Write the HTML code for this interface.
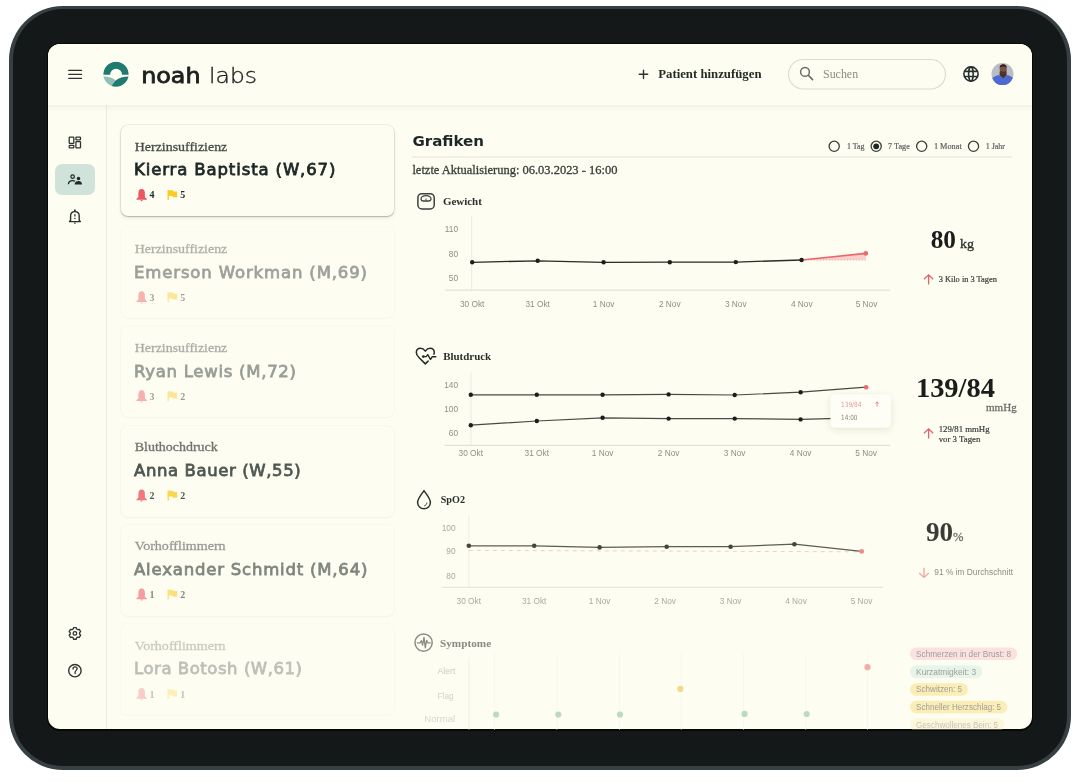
<!DOCTYPE html>
<html lang="de">
<head>
<meta charset="utf-8">
<title>noah labs – Patienten</title>
<style>
*{box-sizing:border-box;margin:0;padding:0}
html,body{width:1080px;height:782px;background:#fff;overflow:hidden}
body{position:relative;font-family:"Liberation Serif",serif;color:#1f2624}
.abs{position:absolute}
#frame{position:absolute;left:8.9px;top:6.1px;width:1061.9px;height:763.6px;border-radius:54px;background:#141819;border:4.2px solid #373f42;border-top-width:3.2px}
#bezel{position:absolute;left:47.2px;top:43.2px;width:986.1px;height:687.4px;border-radius:13px;background:#060707}
#screen{position:absolute;left:48.3px;top:44.3px;width:983.9px;height:685.2px;border-radius:12px;background:#fdfdf1;overflow:hidden}
#pg{position:absolute;left:-48.3px;top:-44.3px;width:1080px;height:782px}
.card{position:absolute;left:121.3px;width:272.3px;height:91px;border-radius:7px;background:#fdfdf1}
svg text{white-space:pre}
.se{font-family:"Liberation Serif",serif}
.sa{font-family:"Liberation Sans",sans-serif}
.dv{font-family:"DejaVu Sans",sans-serif}
</style>
</head>
<body>
<div id="frame"></div>
<div id="bezel"></div>
<div id="screen"><div id="pg">
<div class="card" style="top:125.2px;box-shadow:0 0 0 0.6px rgba(60,60,40,.10),0 1px 1.5px rgba(60,60,40,.30),0 2px 4px rgba(60,60,40,.07)"></div>
<div class="card" style="top:227.4px;box-shadow:0 0 0 1px rgba(60,60,40,0.017),0 1px 2px rgba(60,60,40,0.021)"></div>
<div class="card" style="top:326.4px;box-shadow:0 0 0 1px rgba(60,60,40,0.018),0 1px 2px rgba(60,60,40,0.021)"></div>
<div class="card" style="top:425.6px;box-shadow:0 0 0 1px rgba(60,60,40,0.025),0 1px 2px rgba(60,60,40,0.031)"></div>
<div class="card" style="top:524.6px;box-shadow:0 0 0 1px rgba(60,60,40,0.020),0 1px 2px rgba(60,60,40,0.025)"></div>
<div class="card" style="top:624.2px;box-shadow:0 0 0 1px rgba(60,60,40,0.014),0 1px 2px rgba(60,60,40,0.017)"></div>

  <div class="abs" style="left:106px;top:105px;width:1px;height:630px;background:#ececdf"></div>
  <div class="abs" style="left:0;top:0;width:1080px;height:105px;background:#fdfdf1;box-shadow:0 2px 7px rgba(70,70,40,.07)"></div>
</div></div>
<svg class="abs" style="left:0;top:0" width="1080" height="782" viewBox="0 0 1080 782">
<defs>
  <clipPath id="scr"><rect x="48.3" y="44.3" width="983.9" height="685.2" rx="12"/></clipPath>
  <clipPath id="logoc"><circle cx="116" cy="74.15" r="12.6"/></clipPath>
  <clipPath id="avc"><circle cx="1002.5" cy="74.1" r="11"/></clipPath>
  <filter id="tsh" x="-30%" y="-40%" width="160%" height="200%"><feDropShadow dx="0" dy="2" stdDeviation="3" flood-color="#3c3c28" flood-opacity="0.13"/></filter>
</defs>
<g clip-path="url(#scr)">
<!-- ===== HEADER ===== -->
<g stroke="#2e312d" stroke-width="1.25" stroke-linecap="round">
  <line x1="68.7" y1="70.35" x2="81.5" y2="70.35"/>
  <line x1="68.7" y1="74.35" x2="81.5" y2="74.35"/>
  <line x1="68.7" y1="78.35" x2="81.5" y2="78.35"/>
</g>
<g clip-path="url(#logoc)">
  <path d="M103 74.7 A13 13 0 0 1 129 74.7 L122.1 74.7 A6 6 0 0 0 110.1 74.7 Z" fill="#1f7a70"/>
  <path d="M100 76.6 C108 76.2 112.5 77.6 115.8 80.6 L110 92 L100 92 Z" fill="#8fbfb5"/>
  <path d="M132 76.6 C124 76.2 119.2 77.6 115.8 80.6 C113.6 83 111.6 85.5 109.5 92 L132 92 Z" fill="#1f7a70"/>
</g>
<text class="dv" x="141.2" y="82.5" font-size="21.5" fill="#1c1f1e" stroke="#1c1f1e" stroke-width="0.8" textLength="59.4" lengthAdjust="spacingAndGlyphs">noah</text>
<text class="dv" x="209" y="82.5" font-size="21.5" font-weight="200" fill="#1f2220" stroke="#1f2220" stroke-width="0.35" textLength="48" lengthAdjust="spacingAndGlyphs">labs</text>
<g stroke="#2d3330" stroke-width="1.4" stroke-linecap="round">
  <line x1="639.3" y1="74.3" x2="647.7" y2="74.3"/>
  <line x1="643.5" y1="70.1" x2="643.5" y2="78.5"/>
</g>
<text class="se" x="658.2" y="78" font-size="12.8" font-weight="bold" fill="#262b28" textLength="103.3" lengthAdjust="spacingAndGlyphs">Patient hinzufügen</text>
<rect x="788.5" y="59.5" width="157" height="29.5" rx="14.75" fill="none" stroke="#dcdcd1" stroke-width="1.2"/>
<circle cx="805" cy="71.9" r="4.4" fill="none" stroke="#6a6a64" stroke-width="1.5"/>
<line x1="808.3" y1="75.3" x2="812.6" y2="79.6" stroke="#6a6a64" stroke-width="1.6" stroke-linecap="round"/>
<text class="se" x="823" y="77.8" font-size="12" fill="#8c8c84" textLength="35.1" lengthAdjust="spacingAndGlyphs">Suchen</text>
<g fill="none" stroke="#263030" stroke-width="1.6">
  <circle cx="971" cy="74" r="7.1"/>
  <ellipse cx="970.9" cy="74" rx="2.3" ry="7.1"/>
  <path d="M964.3 71.4 H977.7 M964.3 76.5 H977.7"/>
</g>
<circle cx="1002.5" cy="74.1" r="11" fill="#b9bdc6"/>
<g clip-path="url(#avc)">
  <path d="M989 90 L989 82 C990 78.6 994 76.4 998.6 75 L1003.2 77.8 L1007.6 75 C1011.6 76.2 1015 78.6 1016 82 L1016 90 Z" fill="#4c69d4"/>
  <path d="M999.6 71.5 L1006.6 71.5 L1006.6 75.2 L1003.2 78.2 L999.6 75.2 Z" fill="#4a3028"/>
  <ellipse cx="1003.2" cy="68.9" rx="3.6" ry="4.8" fill="#7a5142"/>
  <path d="M999.6 67.8 C999.4 63.4 1007 63.4 1006.8 67.8 C1005.6 65.9 1000.9 65.9 999.6 67.8 Z" fill="#2e2019"/>
  <path d="M999.8 70.5 C1000.5 73.8 1006 73.8 1006.6 70.5 C1005.5 72.2 1001 72.2 999.8 70.5 Z" fill="#3a2720"/>
</g>
<!-- ===== SIDEBAR ===== -->
<g fill="none" stroke="#2f3431" stroke-width="1.3">
  <rect x="69.2" y="137.2" width="4.6" height="6.2" rx=".6"/>
  <rect x="75.9" y="137.2" width="4.6" height="2.6" rx=".6"/>
  <rect x="69.2" y="145.3" width="4.6" height="2.6" rx=".6"/>
  <rect x="75.9" y="141.7" width="4.6" height="6.2" rx=".6"/>
</g>
<rect x="55" y="164" width="40" height="31" rx="7" fill="#cfe3db"/>
<g fill="#1f2a28">
  <circle cx="72.6" cy="176.7" r="1.75" fill="none" stroke="#1f2a28" stroke-width="1.2"/>
  <path d="M68.4 184.2 C68.6 181.7 70.4 180.6 72.6 180.6 C73.6 180.6 74.4 180.8 75 181.1" fill="none" stroke="#1f2a28" stroke-width="1.3"/>
  <circle cx="78.5" cy="178.4" r="1.75"/>
  <path d="M74.6 184.5 C74.8 181.9 76.5 181 78.5 181 C80.5 181 81.9 181.9 82 184.5 Z"/>
</g>
<g fill="none" stroke="#2b302d" stroke-width="1.4" stroke-linejoin="round">
  <path d="M69.5 221.6 L80.4 221.6 L79.2 220.2 L79.2 215.9 C79.2 213.3 77.4 211.6 74.9 211.6 C72.4 211.6 70.6 213.3 70.6 215.9 L70.6 220.2 Z"/>
  <line x1="74.9" y1="209.6" x2="74.9" y2="211.4" stroke-width="1.7"/>
  <line x1="74.9" y1="214.2" x2="74.9" y2="216.4" stroke-width="1.3"/>
</g>
<circle cx="74.9" cy="218.4" r=".75" fill="#2b302d"/>
<rect x="74.15" y="222.5" width="1.5" height="1.2" fill="#2b302d"/>
<g fill="none" stroke="#2f3431" stroke-width="1.3" stroke-linejoin="round">
  <path d="M73.14 629.04 L73.55 627.55 L76.25 627.55 L76.66 629.04 L77.79 629.70 L79.29 629.31 L80.64 631.65 L79.55 632.75 L79.55 634.05 L80.64 635.15 L79.29 637.49 L77.79 637.10 L76.66 637.76 L76.25 639.25 L73.55 639.25 L73.14 637.76 L72.01 637.10 L70.51 637.49 L69.16 635.15 L70.25 634.05 L70.25 632.75 L69.16 631.65 L70.51 629.31 L72.01 629.70 Z"/>
  <circle cx="74.9" cy="633.4" r="1.8"/>
</g>
<circle cx="74.9" cy="670.7" r="6.2" fill="none" stroke="#2f3431" stroke-width="1.4"/>
<path d="M73 669 C73 667.6 74 666.9 75.1 666.9 C76.3 666.9 77.1 667.7 77.1 668.8 C77.1 670.3 75.1 670.5 75.1 672.3 L75.1 673.6" fill="none" stroke="#2f3431" stroke-width="1.3" stroke-linecap="round"/>


<g opacity="1.0"><text class="se" x="134.8" y="150.9" font-size="13.2" fill="#474c48" stroke="#474c48" stroke-width="0.3" textLength="92.5" lengthAdjust="spacingAndGlyphs">Herzinsuffizienz</text><text class="dv" x="134" y="175.2" font-size="16.5" fill="#1d2826" stroke="#1d2826" stroke-width="0.8" textLength="201.4" lengthAdjust="spacing">Kierra Baptista (W,67)</text><path transform="translate(136.4 188.80)" d="M5.25 0.2 C7.7 0.2 8.5 2.3 8.5 4.6 L8.5 8.2 L10.5 10.1 L10.5 10.9 L0 10.9 L0 10.1 L2 8.2 L2 4.6 C2 2.3 2.8 0.2 5.25 0.2 Z M4.2 11.3 L6.3 11.3 C6.3 12.0 5.8 12.4 5.25 12.4 C4.7 12.4 4.2 12.0 4.2 11.3 Z" fill="#ef5461"/><text class="se" x="149.4" y="198.4" font-size="10" fill="#262c2a" font-weight="bold">4</text><path transform="translate(167.5 189.90)" d="M0 0 L1.4 0 L1.4 10 L0 10 Z M1.4 0.4 L5.6 0.4 L6.1 1.6 L9.7 1.6 L9.7 7.4 L5.4 7.4 L4.9 6.2 L1.4 6.2 Z" fill="#f9cc26"/><text class="se" x="180.3" y="198.4" font-size="10" fill="#262c2a" font-weight="bold">5</text></g>
<g opacity="0.43"><text class="se" x="134.8" y="253.2" font-size="13.2" fill="#474c48" stroke="#474c48" stroke-width="0.3" textLength="92.5" lengthAdjust="spacingAndGlyphs">Herzinsuffizienz</text><text class="dv" x="134" y="277.5" font-size="16.5" fill="#1d2826" stroke="#1d2826" stroke-width="0.8" textLength="233.0" lengthAdjust="spacing">Emerson Workman (M,69)</text><path transform="translate(136.4 291.10)" d="M5.25 0.2 C7.7 0.2 8.5 2.3 8.5 4.6 L8.5 8.2 L10.5 10.1 L10.5 10.9 L0 10.9 L0 10.1 L2 8.2 L2 4.6 C2 2.3 2.8 0.2 5.25 0.2 Z M4.2 11.3 L6.3 11.3 C6.3 12.0 5.8 12.4 5.25 12.4 C4.7 12.4 4.2 12.0 4.2 11.3 Z" fill="#ef5461"/><text class="se" x="149.4" y="300.7" font-size="10" fill="#262c2a" font-weight="bold">3</text><path transform="translate(167.5 292.20)" d="M0 0 L1.4 0 L1.4 10 L0 10 Z M1.4 0.4 L5.6 0.4 L6.1 1.6 L9.7 1.6 L9.7 7.4 L5.4 7.4 L4.9 6.2 L1.4 6.2 Z" fill="#f9cc26"/><text class="se" x="180.3" y="300.7" font-size="10" fill="#262c2a" font-weight="bold">5</text></g>
<g opacity="0.45"><text class="se" x="134.8" y="352.2" font-size="13.2" fill="#474c48" stroke="#474c48" stroke-width="0.3" textLength="92.5" lengthAdjust="spacingAndGlyphs">Herzinsuffizienz</text><text class="dv" x="134" y="376.5" font-size="16.5" fill="#1d2826" stroke="#1d2826" stroke-width="0.8" textLength="162.0" lengthAdjust="spacing">Ryan Lewis (M,72)</text><path transform="translate(136.4 390.10)" d="M5.25 0.2 C7.7 0.2 8.5 2.3 8.5 4.6 L8.5 8.2 L10.5 10.1 L10.5 10.9 L0 10.9 L0 10.1 L2 8.2 L2 4.6 C2 2.3 2.8 0.2 5.25 0.2 Z M4.2 11.3 L6.3 11.3 C6.3 12.0 5.8 12.4 5.25 12.4 C4.7 12.4 4.2 12.0 4.2 11.3 Z" fill="#ef5461"/><text class="se" x="149.4" y="399.7" font-size="10" fill="#262c2a" font-weight="bold">3</text><path transform="translate(167.5 391.20)" d="M0 0 L1.4 0 L1.4 10 L0 10 Z M1.4 0.4 L5.6 0.4 L6.1 1.6 L9.7 1.6 L9.7 7.4 L5.4 7.4 L4.9 6.2 L1.4 6.2 Z" fill="#f9cc26"/><text class="se" x="180.3" y="399.7" font-size="10" fill="#262c2a" font-weight="bold">2</text></g>
<g opacity="0.78"><text class="se" x="134.8" y="451.4" font-size="13.2" fill="#474c48" stroke="#474c48" stroke-width="0.3" textLength="83.0" lengthAdjust="spacingAndGlyphs">Bluthochdruck</text><text class="dv" x="134" y="475.7" font-size="16.5" fill="#1d2826" stroke="#1d2826" stroke-width="0.8" textLength="166.7" lengthAdjust="spacing">Anna Bauer (W,55)</text><path transform="translate(136.4 489.30)" d="M5.25 0.2 C7.7 0.2 8.5 2.3 8.5 4.6 L8.5 8.2 L10.5 10.1 L10.5 10.9 L0 10.9 L0 10.1 L2 8.2 L2 4.6 C2 2.3 2.8 0.2 5.25 0.2 Z M4.2 11.3 L6.3 11.3 C6.3 12.0 5.8 12.4 5.25 12.4 C4.7 12.4 4.2 12.0 4.2 11.3 Z" fill="#ef5461"/><text class="se" x="149.4" y="498.9" font-size="10" fill="#262c2a" font-weight="bold">2</text><path transform="translate(167.5 490.40)" d="M0 0 L1.4 0 L1.4 10 L0 10 Z M1.4 0.4 L5.6 0.4 L6.1 1.6 L9.7 1.6 L9.7 7.4 L5.4 7.4 L4.9 6.2 L1.4 6.2 Z" fill="#f9cc26"/><text class="se" x="180.3" y="498.9" font-size="10" fill="#262c2a" font-weight="bold">2</text></g>
<g opacity="0.56"><text class="se" x="134.8" y="550.4" font-size="13.2" fill="#474c48" stroke="#474c48" stroke-width="0.3" textLength="90.8" lengthAdjust="spacingAndGlyphs">Vorhofflimmern</text><text class="dv" x="134" y="574.7" font-size="16.5" fill="#1d2826" stroke="#1d2826" stroke-width="0.8" textLength="233.4" lengthAdjust="spacing">Alexander Schmidt (M,64)</text><path transform="translate(136.4 588.30)" d="M5.25 0.2 C7.7 0.2 8.5 2.3 8.5 4.6 L8.5 8.2 L10.5 10.1 L10.5 10.9 L0 10.9 L0 10.1 L2 8.2 L2 4.6 C2 2.3 2.8 0.2 5.25 0.2 Z M4.2 11.3 L6.3 11.3 C6.3 12.0 5.8 12.4 5.25 12.4 C4.7 12.4 4.2 12.0 4.2 11.3 Z" fill="#ef5461"/><text class="se" x="149.4" y="597.9" font-size="10" fill="#262c2a" font-weight="bold">1</text><path transform="translate(167.5 589.40)" d="M0 0 L1.4 0 L1.4 10 L0 10 Z M1.4 0.4 L5.6 0.4 L6.1 1.6 L9.7 1.6 L9.7 7.4 L5.4 7.4 L4.9 6.2 L1.4 6.2 Z" fill="#f9cc26"/><text class="se" x="180.3" y="597.9" font-size="10" fill="#262c2a" font-weight="bold">2</text></g>
<g opacity="0.285"><text class="se" x="134.8" y="650.0" font-size="13.2" fill="#474c48" stroke="#474c48" stroke-width="0.3" textLength="90.8" lengthAdjust="spacingAndGlyphs">Vorhofflimmern</text><text class="dv" x="134" y="674.3" font-size="16.5" fill="#1d2826" stroke="#1d2826" stroke-width="0.8" textLength="168.0" lengthAdjust="spacing">Lora Botosh (W,61)</text><path transform="translate(136.4 687.90)" d="M5.25 0.2 C7.7 0.2 8.5 2.3 8.5 4.6 L8.5 8.2 L10.5 10.1 L10.5 10.9 L0 10.9 L0 10.1 L2 8.2 L2 4.6 C2 2.3 2.8 0.2 5.25 0.2 Z M4.2 11.3 L6.3 11.3 C6.3 12.0 5.8 12.4 5.25 12.4 C4.7 12.4 4.2 12.0 4.2 11.3 Z" fill="#ef5461"/><text class="se" x="149.4" y="697.5" font-size="10" fill="#262c2a" font-weight="bold">1</text><path transform="translate(167.5 689.00)" d="M0 0 L1.4 0 L1.4 10 L0 10 Z M1.4 0.4 L5.6 0.4 L6.1 1.6 L9.7 1.6 L9.7 7.4 L5.4 7.4 L4.9 6.2 L1.4 6.2 Z" fill="#f9cc26"/><text class="se" x="180.3" y="697.5" font-size="10" fill="#262c2a" font-weight="bold">1</text></g>

<text class="dv" x="412.4" y="145.6" font-size="14.5" fill="#1d2826" font-weight="bold" textLength="71.6" lengthAdjust="spacingAndGlyphs">Grafiken</text><line x1="412" y1="157" x2="1012" y2="157" stroke="#e2e2d7" stroke-width="1.2"/><text class="se" x="412.4" y="174.3" font-size="11.9" fill="#3b403d" stroke="#3b403d" stroke-width="0.3" textLength="205" lengthAdjust="spacingAndGlyphs">letzte Aktualisierung: 06.03.2023 - 16:00</text><circle cx="834.2" cy="146.3" r="5.1" fill="none" stroke="#3a3f3c" stroke-width="1.3"/><text class="se" x="846.9" y="149" font-size="8.5" fill="#5b5f5b" stroke="#5b5f5b" stroke-width="0.2" textLength="17.5" lengthAdjust="spacingAndGlyphs">1 Tag</text><circle cx="876.2" cy="146.3" r="5.1" fill="none" stroke="#3a3f3c" stroke-width="1.3"/><circle cx="876.2" cy="146.3" r="2.9" fill="#1f2624"/><text class="se" x="888" y="149" font-size="8.5" fill="#5b5f5b" stroke="#5b5f5b" stroke-width="0.2" textLength="21.8" lengthAdjust="spacingAndGlyphs">7 Tage</text><circle cx="921.7" cy="146.3" r="5.1" fill="none" stroke="#3a3f3c" stroke-width="1.3"/><text class="se" x="933.9" y="149" font-size="8.5" fill="#5b5f5b" stroke="#5b5f5b" stroke-width="0.2" textLength="27.8" lengthAdjust="spacingAndGlyphs">1 Monat</text><circle cx="973.5" cy="146.3" r="5.1" fill="none" stroke="#3a3f3c" stroke-width="1.3"/><text class="se" x="985.7" y="149" font-size="8.5" fill="#5b5f5b" stroke="#5b5f5b" stroke-width="0.2" textLength="19.3" lengthAdjust="spacingAndGlyphs">1 Jahr</text><g fill="none" stroke="#3d403c" stroke-width="1.5"><rect x="417.9" y="193.7" width="16.3" height="15.3" rx="4"/><path d="M421 199.1 C420.6 196.7 423.4 195.7 426 195.7 C428.6 195.7 431.4 196.7 431 199.1 C430.8 200.5 430 201 429 201 L423 201 C422 201 421.2 200.5 421 199.1 Z" stroke-width="1.3"/></g><line x1="426" y1="198.6" x2="426" y2="200.6" stroke="#3d403c" stroke-width="1"/><text class="se" x="442.9" y="204.6" font-size="11" fill="#2b302d" font-weight="bold" textLength="38.9" lengthAdjust="spacingAndGlyphs">Gewicht</text><line x1="471.7" y1="216" x2="471.7" y2="291.5" stroke="#ebebe0" stroke-width="1"/><line x1="445" y1="290.2" x2="890.3" y2="290.2" stroke="#e3e3d8" stroke-width="1.3"/><text class="sa" x="458.1" y="232.4" font-size="8.3" fill="#8e8e86" text-anchor="end">110</text><text class="sa" x="458.1" y="257" font-size="8.3" fill="#8e8e86" text-anchor="end">80</text><text class="sa" x="458.1" y="280.7" font-size="8.3" fill="#8e8e86" text-anchor="end">50</text><text class="sa" x="472.2" y="307.1" font-size="8.3" fill="#8e8e86" text-anchor="middle">30 Okt</text><text class="sa" x="537.7" y="307.1" font-size="8.3" fill="#8e8e86" text-anchor="middle">31 Okt</text><text class="sa" x="603.6" y="307.1" font-size="8.3" fill="#8e8e86" text-anchor="middle">1 Nov</text><text class="sa" x="669.8" y="307.1" font-size="8.3" fill="#8e8e86" text-anchor="middle">2 Nov</text><text class="sa" x="735.8" y="307.1" font-size="8.3" fill="#8e8e86" text-anchor="middle">3 Nov</text><text class="sa" x="801.8" y="307.1" font-size="8.3" fill="#8e8e86" text-anchor="middle">4 Nov</text><text class="sa" x="866.5" y="307.1" font-size="8.3" fill="#8e8e86" text-anchor="middle">5 Nov</text><polygon points="801.6,260 865.8,253.4 865.8,259.8" fill="#f4a9a9" opacity="0.55"/><line x1="801.6" y1="260" x2="865.8" y2="260" stroke="#f0a0a0" stroke-width="0.8" stroke-dasharray="1.5 1.5"/><polyline points="472.2,262.3 537.7,260.8 603.6,262.3 669.8,262.2 735.8,262.1 801.6,260.0" fill="none" stroke="#2b2b27" stroke-width="1.3" stroke-linejoin="round"/><line x1="801.6" y1="260" x2="865.8" y2="253.4" stroke="#e8676b" stroke-width="1.6"/><circle cx="472.2" cy="262.3" r="2.2" fill="#1d1d1a"/><circle cx="537.7" cy="260.8" r="2.2" fill="#1d1d1a"/><circle cx="603.6" cy="262.3" r="2.2" fill="#1d1d1a"/><circle cx="669.8" cy="262.2" r="2.2" fill="#1d1d1a"/><circle cx="735.8" cy="262.1" r="2.2" fill="#1d1d1a"/><circle cx="801.6" cy="260.0" r="2.2" fill="#1d1d1a"/><circle cx="865.8" cy="253.4" r="2.4" fill="#ec6a6e"/><text class="se" x="930.7" y="247.5" font-size="25.5" fill="#1a1d1b" stroke="#1a1d1b" stroke-width="0.001" font-weight="bold" textLength="25.3" lengthAdjust="spacingAndGlyphs">80</text><text class="se" x="960" y="247.5" font-size="13" fill="#2b2f2c" stroke="#2b2f2c" stroke-width="0.28" textLength="14" lengthAdjust="spacingAndGlyphs">kg</text><path transform="translate(924 274.8)" d="M0 4.4 L4.6 0 L9.2 4.4 M4.6 0.2 L4.6 9.6" fill="none" stroke="#e0636a" stroke-width="1.3"/><text class="se" x="938.7" y="282.1" font-size="8.3" fill="#393e3b" stroke="#393e3b" stroke-width="0.2" textLength="58.2" lengthAdjust="spacingAndGlyphs">3 Kilo in 3 Tagen</text><path d="M428.1 361.1 L425.3 363.9 L419.2 357.8 C417 355.6 416.2 354 416.3 352.2 C416.5 349.9 418.3 348.3 420.5 348.3 C422.3 348.3 424 349.3 425.3 351.1 C426.6 349.3 428.3 348.3 430.1 348.3 C432.3 348.3 434.1 349.9 434.3 352.2 C434.3 352.9 434.2 353.6 433.9 354.3" fill="none" stroke="#262b28" stroke-width="1.5" stroke-linecap="round" stroke-linejoin="round"/><path d="M423.4 356.6 L426.1 356.6 L427.8 354.6 L430.4 359.5 L432.3 356.7 L435.8 356.7" fill="none" stroke="#262b28" stroke-width="1.4" stroke-linejoin="round" stroke-linecap="round"/><circle cx="423.3" cy="356.6" r="1.35" fill="#262b28"/><text class="se" x="443.2" y="360.4" font-size="11" fill="#2b302d" font-weight="bold" textLength="48" lengthAdjust="spacingAndGlyphs">Blutdruck</text><line x1="471" y1="372.6" x2="471" y2="446" stroke="#ebebe0" stroke-width="1"/><line x1="444.6" y1="445.3" x2="890.3" y2="445.3" stroke="#e3e3d8" stroke-width="1.3"/><text class="sa" x="458" y="387.5" font-size="8.3" fill="#8e8e86" text-anchor="end">140</text><text class="sa" x="458" y="412.3" font-size="8.3" fill="#8e8e86" text-anchor="end">100</text><text class="sa" x="458" y="436" font-size="8.3" fill="#8e8e86" text-anchor="end">60</text><text class="sa" x="470.8" y="455.9" font-size="8.3" fill="#8e8e86" text-anchor="middle">30 Okt</text><text class="sa" x="536.8" y="455.9" font-size="8.3" fill="#8e8e86" text-anchor="middle">31 Okt</text><text class="sa" x="602.6" y="455.9" font-size="8.3" fill="#8e8e86" text-anchor="middle">1 Nov</text><text class="sa" x="668.6" y="455.9" font-size="8.3" fill="#8e8e86" text-anchor="middle">2 Nov</text><text class="sa" x="734.7" y="455.9" font-size="8.3" fill="#8e8e86" text-anchor="middle">3 Nov</text><text class="sa" x="800.6" y="455.9" font-size="8.3" fill="#8e8e86" text-anchor="middle">4 Nov</text><text class="sa" x="866.1" y="455.9" font-size="8.3" fill="#8e8e86" text-anchor="middle">5 Nov</text><polyline points="470.8,394.8 536.8,394.8 602.6,394.8 668.6,394.4 734.7,395 800.6,392.2 866.1,387.2" fill="none" stroke="#4a4a45" stroke-width="1.2" stroke-linejoin="round"/><polyline points="470.8,425.2 536.8,421 602.6,417.8 668.6,418.6 734.7,418.6 800.6,419.4 866.1,417.6" fill="none" stroke="#4a4a45" stroke-width="1.2" stroke-linejoin="round"/><circle cx="470.8" cy="394.8" r="2.2" fill="#1d1d1a"/><circle cx="536.8" cy="394.8" r="2.2" fill="#1d1d1a"/><circle cx="602.6" cy="394.8" r="2.2" fill="#1d1d1a"/><circle cx="668.6" cy="394.4" r="2.2" fill="#1d1d1a"/><circle cx="734.7" cy="395" r="2.2" fill="#1d1d1a"/><circle cx="800.6" cy="392.2" r="2.2" fill="#1d1d1a"/><circle cx="470.8" cy="425.2" r="2.2" fill="#1d1d1a"/><circle cx="536.8" cy="421" r="2.2" fill="#1d1d1a"/><circle cx="602.6" cy="417.8" r="2.2" fill="#1d1d1a"/><circle cx="668.6" cy="418.6" r="2.2" fill="#1d1d1a"/><circle cx="734.7" cy="418.6" r="2.2" fill="#1d1d1a"/><circle cx="800.6" cy="419.4" r="2.2" fill="#1d1d1a"/><circle cx="866.1" cy="387.2" r="2.3" fill="#ec6a6e"/><rect x="830.5" y="394.4" width="60.5" height="33.4" rx="5" fill="#fefef6" filter="url(#tsh)"/>
<text class="dv" x="841" y="406.6" font-size="7.2" fill="#e6979a" textLength="20.5" lengthAdjust="spacingAndGlyphs">139/84</text><path transform="translate(875.4 401.4)" d="M0 2.2 L1.7 0.4 L3.4 2.2 M1.7 0.5 L1.7 5" fill="none" stroke="#e77d7f" stroke-width="0.9"/><text class="dv" x="841" y="419.6" font-size="7.2" fill="#8a8a83" textLength="16.5" lengthAdjust="spacingAndGlyphs">14:00</text><text class="se" x="915.9" y="396.9" font-size="27" fill="#1a1d1b" stroke="#1a1d1b" stroke-width="0.001" font-weight="bold" textLength="79.1" lengthAdjust="spacingAndGlyphs">139/84</text><text class="se" x="986" y="411.3" font-size="10.5" fill="#6b6e6a" stroke="#6b6e6a" stroke-width="0.28" textLength="30.7" lengthAdjust="spacingAndGlyphs">mmHg</text><path transform="translate(924 428.9)" d="M0 4.4 L4.6 0 L9.2 4.4 M4.6 0.2 L4.6 9.6" fill="none" stroke="#e0636a" stroke-width="1.3"/><text class="se" x="938.7" y="431.8" font-size="8.7" fill="#393e3b" stroke="#393e3b" stroke-width="0.2" textLength="50.9" lengthAdjust="spacingAndGlyphs">129/81 mmHg</text><text class="se" x="938.7" y="441.8" font-size="8.7" fill="#393e3b" stroke="#393e3b" stroke-width="0.2" textLength="41.7" lengthAdjust="spacingAndGlyphs">vor 3 Tagen</text><path d="M424 490.6 C421 495 417.6 498.6 417.6 502.4 C417.6 506.1 420.5 508.7 424 508.7 C427.5 508.7 430.4 506.1 430.4 502.4 C430.4 498.6 427 495 424 490.6 Z" fill="none" stroke="#2d322f" stroke-width="1.5" stroke-linejoin="round"/><path d="M426.8 502.6 C426.8 504.3 425.7 505.6 424.2 505.9" fill="none" stroke="#2d322f" stroke-width="0.9"/><text class="se" x="440.7" y="503.4" font-size="11" fill="#2b302d" font-weight="bold" textLength="24.3" lengthAdjust="spacingAndGlyphs">SpO2</text><line x1="468.8" y1="514.7" x2="468.8" y2="587.5" stroke="#efefe4" stroke-width="1"/><line x1="442.3" y1="587.3" x2="883.3" y2="587.3" stroke="#e8e8dd" stroke-width="1.3"/><text class="sa" x="455.5" y="530.6" font-size="8.3" fill="#a9a9a1" text-anchor="end">100</text><text class="sa" x="455.5" y="554.3" font-size="8.3" fill="#a9a9a1" text-anchor="end">90</text><text class="sa" x="455.5" y="578.5" font-size="8.3" fill="#a9a9a1" text-anchor="end">80</text><text class="sa" x="468.8" y="604" font-size="8.3" fill="#a9a9a1" text-anchor="middle">30 Okt</text><text class="sa" x="534.2" y="604" font-size="8.3" fill="#a9a9a1" text-anchor="middle">31 Okt</text><text class="sa" x="599.7" y="604" font-size="8.3" fill="#a9a9a1" text-anchor="middle">1 Nov</text><text class="sa" x="665.2" y="604" font-size="8.3" fill="#a9a9a1" text-anchor="middle">2 Nov</text><text class="sa" x="730.6" y="604" font-size="8.3" fill="#a9a9a1" text-anchor="middle">3 Nov</text><text class="sa" x="796.0" y="604" font-size="8.3" fill="#a9a9a1" text-anchor="middle">4 Nov</text><text class="sa" x="861.5" y="604" font-size="8.3" fill="#a9a9a1" text-anchor="middle">5 Nov</text><line x1="468.8" y1="550.4" x2="861.7" y2="551.8" stroke="#eccac5" stroke-width="0.9" stroke-dasharray="4 4"/><polyline points="468.8,545.8 534.2,545.8 599.6,547.4 666.7,546.7 730.6,546.7 794.4,544.2 861.7,551.4" fill="none" stroke="#5c5c57" stroke-width="1.3" stroke-linejoin="round"/><circle cx="468.8" cy="545.8" r="2.3" fill="#45453f"/><circle cx="534.2" cy="545.8" r="2.3" fill="#45453f"/><circle cx="599.6" cy="547.4" r="2.3" fill="#45453f"/><circle cx="666.7" cy="546.7" r="2.3" fill="#45453f"/><circle cx="730.6" cy="546.7" r="2.3" fill="#45453f"/><circle cx="794.4" cy="544.2" r="2.3" fill="#45453f"/><circle cx="861.7" cy="551.4" r="2.4" fill="#f08a8a"/><text class="se" x="925.9" y="540.9" font-size="27" fill="#3c3b37" stroke="#3c3b37" stroke-width="0.001" font-weight="bold" textLength="27.1" lengthAdjust="spacingAndGlyphs">90</text><text class="se" x="953" y="540.9" font-size="13" fill="#6b6b66" stroke="#6b6b66" stroke-width="0.28" textLength="10.5" lengthAdjust="spacingAndGlyphs">%</text><path transform="translate(919.2 567.8)" d="M0 5.2 L4.8 9.6 L9.6 5.2 M4.8 9.4 L4.8 0" fill="none" stroke="#f2a2a2" stroke-width="1.3"/><text class="sa" x="934.3" y="575.4" font-size="8.3" fill="#8d8d87" textLength="78.8" lengthAdjust="spacingAndGlyphs">91 % im Durchschnitt</text><circle cx="423.6" cy="642.6" r="8.6" fill="none" stroke="#8c8c86" stroke-width="1.5"/><path d="M417.3 642.8 L420.2 642.8 L421.4 640.6 L422.6 645.2 L424 637.4 L425.3 647.9 L426.6 640.4 L427.8 642.8 L430.3 642.8" fill="none" stroke="#8c8c86" stroke-width="1.3" stroke-linejoin="round" stroke-linecap="round"/><text class="se" x="440" y="646.8" font-size="11" fill="#8a8a84" font-weight="bold" textLength="51.2" lengthAdjust="spacingAndGlyphs">Symptome</text><text class="sa" x="437.4" y="673.9" font-size="8.6" fill="#cdcdc4" textLength="18" lengthAdjust="spacingAndGlyphs">Alert</text><text class="sa" x="437.6" y="698.6" font-size="8.6" fill="#d2d2c9" textLength="16" lengthAdjust="spacingAndGlyphs">Flag</text><text class="sa" x="424.2" y="722.4" font-size="8.6" fill="#d8d8cf" textLength="31" lengthAdjust="spacingAndGlyphs">Normal</text><line x1="469" y1="657.8" x2="469" y2="735" stroke="#f1f1e6" stroke-width="1"/><line x1="494.5" y1="653" x2="494.5" y2="735" stroke="#f8f8ee" stroke-width="1"/><line x1="556.8" y1="653" x2="556.8" y2="735" stroke="#f8f8ee" stroke-width="1"/><line x1="619.5" y1="653" x2="619.5" y2="735" stroke="#f8f8ee" stroke-width="1"/><line x1="681.3" y1="653" x2="681.3" y2="735" stroke="#f8f8ee" stroke-width="1"/><line x1="743.5" y1="653" x2="743.5" y2="735" stroke="#f8f8ee" stroke-width="1"/><line x1="805.7" y1="653" x2="805.7" y2="735" stroke="#f8f8ee" stroke-width="1"/><line x1="867.5" y1="653" x2="867.5" y2="735" stroke="#f8f8ee" stroke-width="1"/><circle cx="496.1" cy="714.5" r="3.1" fill="#bcd9c7"/><circle cx="558.3" cy="714.5" r="3.1" fill="#bcd9c7"/><circle cx="620" cy="714.5" r="3.1" fill="#bcd9c7"/><circle cx="680.4" cy="688.9" r="3.1" fill="#f4d98c"/><circle cx="744.6" cy="713.9" r="3.1" fill="#bcd9c7"/><circle cx="806.7" cy="714" r="3.1" fill="#bcd9c7"/><circle cx="867.5" cy="667.2" r="3.1" fill="#f5abab"/><g><rect x="910" y="647.5" width="107.2" height="12.6" rx="6.3" fill="#fbe1df"/><text class="sa" x="916.1" y="656.6" font-size="8.3" fill="#9f9e97" textLength="95" lengthAdjust="spacingAndGlyphs">Schmerzen in der Brust: 8</text></g><g><rect x="910" y="665.4" width="72.2" height="12.6" rx="6.3" fill="#e6f4ea"/><text class="sa" x="916.1" y="674.5" font-size="8.3" fill="#9f9e97" textLength="60" lengthAdjust="spacingAndGlyphs">Kurzatmigkeit: 3</text></g><g><rect x="910" y="683.2" width="58" height="12.6" rx="6.3" fill="#fbedb6"/><text class="sa" x="916.1" y="692.3" font-size="8.3" fill="#9f9e97" textLength="46" lengthAdjust="spacingAndGlyphs">Schwitzen: 5</text></g><g><rect x="910" y="700.7" width="97.4" height="12.6" rx="6.3" fill="#fbedb6"/><text class="sa" x="916.1" y="709.8" font-size="8.3" fill="#9f9e97" textLength="85" lengthAdjust="spacingAndGlyphs">Schneller Herzschlag: 5</text></g><g opacity="0.6"><rect x="910" y="718.5" width="94.3" height="12.6" rx="6.3" fill="#fcf2cd"/><text class="sa" x="916.1" y="727.6" font-size="8.3" fill="#9f9e97" textLength="82" lengthAdjust="spacingAndGlyphs">Geschwollenes Bein: 5</text></g>
</g>
</svg>
</body>
</html>
